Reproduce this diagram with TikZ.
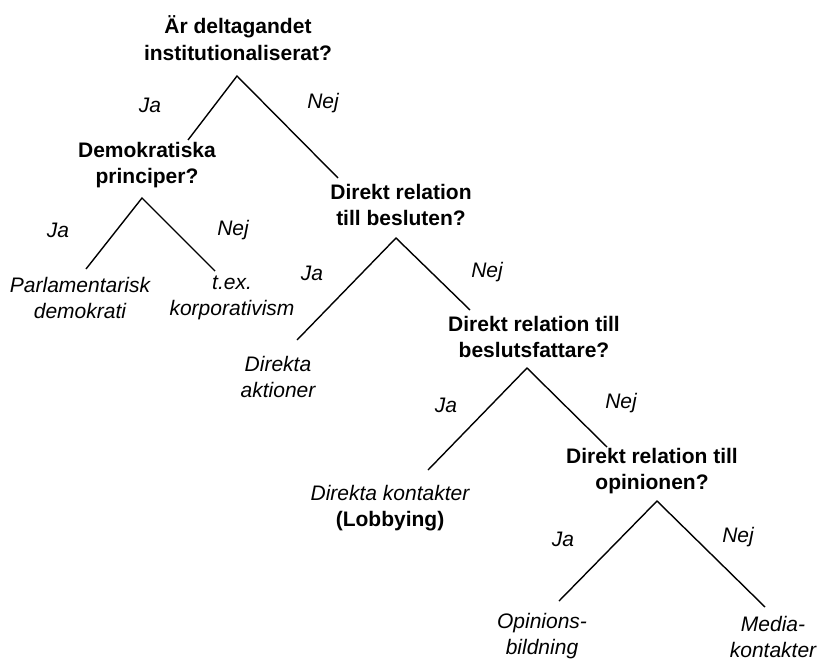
\documentclass[tikz,border=0pt]{standalone}
\usepackage{fontspec}
\setmainfont{Liberation Sans}
\begin{document}
\fontsize{10.5}{13.25}\selectfont
\begin{tikzpicture}[x=0.5pt,y=-0.5pt,
  fraga/.style={font=\bfseries, align=center},
  svar/.style={font=\itshape, align=center},
  gren/.style={line width=0.7pt}]
  \useasboundingbox (0,0) rectangle (822,664);

  % fragor
  \node[fraga] (root) at (238,38) {Är deltagandet\\institutionaliserat?};
  \node[fraga] (dem) at (147,165) {Demokratiska\\principer?};
  \node[fraga] (besl) at (401,205) {Direkt relation\\till besluten?};
  \node[fraga] (fatt) at (534,337) {Direkt relation till\\beslutsfattare?};
  \node[fraga] (opin) at (652,471) {Direkt relation till\\opinionen?};

  % utfall
  \node[svar] (parl) at (80,298) {Parlamentarisk\\demokrati};
  \node[svar] (korp) at (232,298) {t.ex.\\korporativism};
  \node[svar] (akt) at (278,377) {Direkta\\aktioner};
  \node[svar] (lobb) at (390,508) {Direkta kontakter\\\textbf{\upshape(Lobbying)}};
  \node[svar] (bild) at (542,636) {Opinions-\\bildning};
  \node[svar] (media) at (773,637) {Media-\\kontakter};

  % forgreningar
  \coordinate (root-f) at (237,76);
  \coordinate (dem-f) at (142,198);
  \coordinate (besl-f) at (396,238);
  \coordinate (fatt-f) at (527,368);
  \coordinate (opin-f) at (657,501);

  \coordinate (dem-t) at (188,140);
  \coordinate (besl-t) at (338,178);
  \coordinate (parl-t) at (86,269);
  \coordinate (korp-t) at (215,271);
  \coordinate (akt-t) at (297,340);
  \coordinate (fatt-t) at (470,310);
  \coordinate (lobb-t) at (428,470);
  \coordinate (opin-t) at (607,447);
  \coordinate (bild-t) at (559,601);
  \coordinate (media-t) at (765,607);

  \draw[gren] (dem-t) -- (root-f) -- (besl-t);
  \draw[gren] (parl-t) -- (dem-f) -- (korp-t);
  \draw[gren] (akt-t) -- (besl-f) -- (fatt-t);
  \draw[gren] (lobb-t) -- (fatt-f) -- (opin-t);
  \draw[gren] (bild-t) -- (opin-f) -- (media-t);

  % ja / nej
  \node[svar] (ja1) at (150,105) {Ja};
  \node[svar] (nej1) at (323,103) {Nej};
  \node[svar] (ja2) at (58,230) {Ja};
  \node[svar] (nej2) at (233,230) {Nej};
  \node[svar] (ja3) at (312,273) {Ja};
  \node[svar] (nej3) at (487,272) {Nej};
  \node[svar] (ja4) at (446,405) {Ja};
  \node[svar] (nej4) at (621,403) {Nej};
  \node[svar] (ja5) at (563,539) {Ja};
  \node[svar] (nej5) at (738,537) {Nej};
\end{tikzpicture}
\end{document}
